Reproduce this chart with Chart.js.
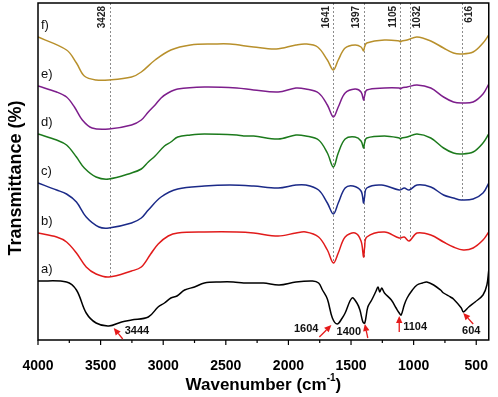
<!DOCTYPE html>
<html>
<head>
<meta charset="utf-8">
<script src="https://cdn.jsdelivr.net/npm/chart.js@4.4.1/dist/chart.umd.min.js"></script>
<style>
  html, body { margin: 0; padding: 0; background: #fff; }
  canvas { display: block; }
</style>
</head>
<body>
<canvas id="ftir" width="498" height="397"></canvas>
<script>
// FTIR spectra, [wavenumber cm-1, transmittance (arb., stacked)]
const specA = [[4000,59],[3772,58],[3693,50],[3615,27],[3536,17],[3434,14],[3332,18],[3253,20],[3119,23],[3041,33],[2990,37],[2939,42],[2890,44],[2829,50],[2750,53],[2671,57],[2546,58],[2440,58],[2357,57],[2200,57],[2074,55],[1940,58],[1807,59],[1759,57],[1728,50],[1689,41],[1649,22],[1610,16],[1570,22],[1547,27],[1492,42],[1453,37],[1429,30],[1405,18],[1390,17],[1366,33],[1335,40],[1300,49],[1285,53],[1270,48],[1255,52],[1233,47],[1178,40],[1140,32],[1115,27],[1100,25],[1075,35],[1052,42],[1010,50],[973,55],[930,57],[895,58],[840,55],[785,50],[761,47],[706,43],[682,41],[619,32],[603,28],[560,33],[509,38],[446,45],[415,55],[400,70]];
const specB = [[4000,107],[3851,103],[3772,98],[3693,87],[3615,73],[3536,66],[3434,63],[3253,69],[3175,73],[3100,86],[3040,96],[2960,104],[2884,107],[2671,108],[2412,108],[2278,107],[2082,104],[1940,107],[1862,108],[1759,103],[1689,90],[1641,77],[1602,87],[1547,103],[1468,107],[1420,99],[1400,83],[1392,92],[1374,103],[1233,108],[1115,102],[1075,103],[1036,99],[973,107],[863,105],[761,98],[682,93],[603,90],[525,92],[446,100],[400,108]];
const specC = [[4000,157],[3851,150],[3772,146],[3693,138],[3615,123],[3513,113],[3434,112],[3253,117],[3175,122],[3119,130],[3017,143],[2884,151],[2671,154],[2467,155],[2278,154],[2082,152],[1940,155],[1862,155],[1759,150],[1689,137],[1641,126],[1602,137],[1547,152],[1484,154],[1420,149],[1400,137],[1392,143],[1374,152],[1256,155],[1115,150],[1075,152],[1036,150],[973,155],[863,153],[761,145],[682,142],[619,140],[525,141],[446,147],[400,157]];
const specD = [[4000,206],[3851,200],[3772,195],[3693,183],[3630,172],[3536,163],[3434,161],[3253,167],[3175,171],[3119,178],[3065,184],[2990,194],[2939,198],[2884,203],[2782,205],[2671,206],[2412,205],[2357,204],[2278,204],[2082,201],[1940,205],[1862,204],[1759,200],[1689,187],[1641,173],[1602,187],[1547,201],[1468,203],[1420,199],[1400,192],[1392,197],[1374,202],[1233,204],[1115,202],[1105,201],[1095,202],[1052,203],[973,206],[863,202],[761,192],[682,187],[619,186],[525,188],[446,197],[400,206]];
const specE = [[4000,254],[3851,248],[3772,243],[3709,233],[3646,220],[3568,212],[3434,211],[3253,215],[3175,220],[3119,228],[3065,235],[3017,242],[2962,247],[2884,251],[2671,253],[2412,252],[2278,250],[2082,248],[1940,252],[1862,251],[1759,247],[1689,235],[1641,223],[1602,233],[1547,247],[1468,251],[1420,248],[1400,240],[1392,244],[1374,250],[1233,252],[1115,252],[1105,251],[1095,252],[1052,253],[973,255],[863,252],[761,243],[682,238],[619,237],[525,238],[446,246],[400,256]];
const specF = [[4000,303],[3772,290],[3693,277],[3630,264],[3536,260],[3434,260],[3253,263],[3175,268],[3065,280],[2939,290],[2782,295],[2593,296],[2467,296],[2278,293],[2097,291],[1940,295],[1862,296],[1767,293],[1689,280],[1641,270],[1602,280],[1547,292],[1468,295],[1420,293],[1400,289],[1392,293],[1374,297],[1233,300],[1115,299],[1105,298],[1095,299],[1052,300],[973,303],[863,299],[761,292],[682,287],[619,286],[525,288],[446,297],[400,305]];

const seriesLabels = ['a)', 'b)', 'c)', 'd)', 'e)', 'f)'];
const seriesColors = ['#000000', '#e11b1b', '#1b2a88', '#1c7a1c', '#7d1e8c', '#b8902c'];

const xTicks = [4000, 3500, 3000, 2500, 2000, 1500, 1000, 500];

// dotted reference lines: wavenumber and where the line stops
const markWaves = [3428, 1641, 1397, 1105, 1032, 616];
const markEnds = [63, 77, 83, 100, 100, 140];

// red arrows on spectrum a)
const peakLabels = ['3444', '1604', '1400', '1104', '604'];
const peakWaves = [3395, 1657, 1390, 1115, 604];
const peakTrans = [12, 15, 16, 24, 27];

const FONT = '"Liberation Sans", Arial, sans-serif';

// layout bits for the annotations (pixels)
const markSide = [-1, -1, -1, -1, 1, 1];
const arrowTail = [[9, 11], [-12, 12], [3, 14], [0, 16], [10, 11]];
const arrowText = [[11, 3, 'left'], [-13, 4, 'right'], [-16, 8, 'center'], [4, 11, 'left'], [8, 18, 'center']];

function arrow(ctx, x0, y0, x1, y1) {
  const ang = Math.atan2(y1 - y0, x1 - x0);
  const hl = 7, hw = 3.2;
  ctx.beginPath();
  ctx.moveTo(x0, y0);
  ctx.lineTo(x1 - hl * Math.cos(ang), y1 - hl * Math.sin(ang));
  ctx.stroke();
  ctx.beginPath();
  ctx.moveTo(x1, y1);
  ctx.lineTo(x1 - hl * Math.cos(ang) + hw * Math.sin(ang), y1 - hl * Math.sin(ang) - hw * Math.cos(ang));
  ctx.lineTo(x1 - hl * Math.cos(ang) - hw * Math.sin(ang), y1 - hl * Math.sin(ang) + hw * Math.cos(ang));
  ctx.closePath();
  ctx.fill();
}

const decor = {
  id: 'decor',
  beforeDatasetsDraw(chart) {
    const { ctx, chartArea: a, scales: { x, y } } = chart;
    ctx.save();
    ctx.strokeStyle = '#8c8c8c';
    ctx.lineWidth = 1;
    ctx.setLineDash([2, 2]);
    markWaves.forEach((w, i) => {
      const px = Math.round(x.getPixelForValue(w)) + 0.5;
      ctx.beginPath();
      ctx.moveTo(px, a.top);
      ctx.lineTo(px, y.getPixelForValue(markEnds[i]));
      ctx.stroke();
    });
    ctx.restore();
  },
  afterDatasetsDraw(chart) {
    const { ctx, chartArea: a, scales: { x, y } } = chart;
    ctx.save();

    // frame + ticks
    ctx.strokeStyle = '#000';
    ctx.lineWidth = 1.5;
    ctx.strokeRect(a.left, a.top, a.right - a.left, a.bottom - a.top);
    ctx.lineWidth = 1.2;
    for (let w = 4000; w >= 500; w -= 250) {
      const px = x.getPixelForValue(w);
      const len = w % 500 === 0 ? 5 : 3;
      ctx.beginPath();
      ctx.moveTo(px, a.bottom);
      ctx.lineTo(px, a.bottom + len);
      ctx.stroke();
    }

    // labels of the marked bands
    ctx.fillStyle = '#222';
    ctx.font = 'bold 10px ' + FONT;
    ctx.textAlign = 'right';
    ctx.textBaseline = 'middle';
    markWaves.forEach((w, i) => {
      ctx.save();
      ctx.translate(x.getPixelForValue(w) + markSide[i] * 7.5, a.top + 3);
      ctx.rotate(-Math.PI / 2);
      ctx.fillText(String(w), 0, 0);
      ctx.restore();
    });

    // series names
    ctx.fillStyle = '#111';
    ctx.font = '13px ' + FONT;
    ctx.textAlign = 'left';
    [specA, specB, specC, specD, specE, specF].forEach((s, i) => {
      ctx.fillText(seriesLabels[i], a.left + 3, y.getPixelForValue(s[0][1]) - 12);
    });

    // red arrows
    ctx.strokeStyle = '#e51a1a';
    ctx.fillStyle = '#e51a1a';
    ctx.lineWidth = 1.3;
    peakWaves.forEach((w, i) => {
      const tx = x.getPixelForValue(w), ty = y.getPixelForValue(peakTrans[i]);
      arrow(ctx, tx + arrowTail[i][0], ty + arrowTail[i][1], tx, ty);
    });
    ctx.fillStyle = '#111';
    ctx.font = 'bold 11px ' + FONT;
    peakWaves.forEach((w, i) => {
      const tx = x.getPixelForValue(w), ty = y.getPixelForValue(peakTrans[i]);
      ctx.textAlign = arrowText[i][2];
      ctx.fillText(peakLabels[i], tx + arrowText[i][0], ty + arrowText[i][1]);
    });

    // axis titles
    ctx.fillStyle = '#000';
    ctx.textAlign = 'center';
    ctx.font = 'bold 18px ' + FONT;
    ctx.save();
    ctx.translate(16, 178);
    ctx.rotate(-Math.PI / 2);
    ctx.fillText('Transmittance (%)', 0, 0);
    ctx.restore();

    const main = 'Wavenumber (cm', sup = '-1', tail = ')';
    ctx.font = 'bold 17px ' + FONT;
    const w1 = ctx.measureText(main).width, w3 = ctx.measureText(tail).width;
    ctx.font = 'bold 10px ' + FONT;
    const w2 = ctx.measureText(sup).width;
    let sx = (a.left + a.right) / 2 - (w1 + w2 + w3) / 2;
    const ty = 385;
    ctx.textAlign = 'left';
    ctx.font = 'bold 17px ' + FONT;
    ctx.fillText(main, sx, ty);
    ctx.font = 'bold 10px ' + FONT;
    ctx.fillText(sup, sx + w1, ty - 7);
    ctx.font = 'bold 17px ' + FONT;
    ctx.fillText(tail, sx + w1 + w2, ty);
    ctx.restore();
  }
};

const datasets = [specA, specB, specC, specD, specE, specF].map((s, i) => ({
  label: seriesLabels[i],
  data: s.map(p => ({ x: p[0], y: p[1] })),
  borderColor: seriesColors[i],
  borderWidth: 1.5,
  pointRadius: 0,
  tension: 0.35,
  fill: false
}));

new Chart(document.getElementById('ftir'), {
  type: 'line',
  data: { datasets: datasets },
  options: {
    responsive: false,
    animation: false,
    layout: { padding: { top: 3, right: 3, left: 0, bottom: 0 } },
    plugins: { legend: { display: false }, tooltip: { enabled: false } },
    scales: {
      x: {
        type: 'linear',
        reverse: true,
        min: 400,
        max: 4000,
        afterBuildTicks: s => { s.ticks = xTicks.map(v => ({ value: v })); },
        afterFit: s => { s.height = 57; },
        ticks: {
          autoSkip: false,
          maxRotation: 0,
          padding: 10,
          color: '#000',
          font: { family: FONT, size: 14, weight: 'bold' },
          callback: v => String(v)
        },
        grid: { display: false },
        border: { display: false }
      },
      y: {
        min: 0,
        max: 337,
        afterFit: s => { s.width = 38; },
        ticks: { display: false },
        grid: { display: false },
        border: { display: false }
      }
    }
  },
  plugins: [decor]
});
</script>
</body>
</html>
